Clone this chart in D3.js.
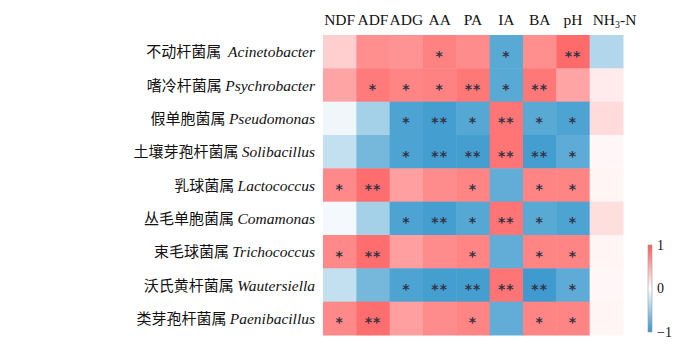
<!DOCTYPE html>
<html>
<head>
<meta charset="utf-8">
<script src="https://cdn.jsdelivr.net/npm/d3@7"></script>
<style>
  body { margin: 0; background: #fff; }
</style>
</head>
<body>
<svg width="700" height="351"></svg>
<script>
var cols = ["NDF", "ADF", "ADG", "AA", "PA", "IA", "BA", "pH", "NH3-N"];
var genusCn = ["不动杆菌属", "嗜冷杆菌属", "假单胞菌属", "土壤芽孢杆菌属", "乳球菌属",
               "丛毛单胞菌属", "束毛球菌属", "沃氏黄杆菌属", "类芽孢杆菌属"];
var genusLatin = ["Acinetobacter", "Psychrobacter", "Pseudomonas", "Solibacillus", "Lactococcus",
                  "Comamonas", "Trichococcus", "Wautersiella", "Paenibacillus"];

// correlation coefficients, one row per genus
var corr = [
    [0.30, 0.68, 0.66, 0.76, 0.70, -0.82, 0.68, 0.90, -0.38],
    [0.55, 0.80, 0.74, 0.76, 0.82, -0.82, 0.82, 0.55, 0.12],
    [-0.08, -0.45, -0.88, -0.92, -0.84, 0.84, -0.82, -0.88, 0.22],
    [-0.30, -0.68, -0.88, -0.92, -0.92, 0.84, -0.92, -0.80, 0.05],
    [0.72, 0.88, 0.58, 0.70, 0.74, -0.78, 0.74, 0.74, 0.06],
    [-0.06, -0.45, -0.88, -0.92, -0.84, 0.84, -0.82, -0.88, 0.20],
    [0.72, 0.88, 0.58, 0.70, 0.74, -0.78, 0.74, 0.74, 0.06],
    [-0.30, -0.68, -0.88, -0.92, -0.92, 0.84, -0.95, -0.80, 0.05],
    [0.72, 0.88, 0.58, 0.70, 0.74, -0.78, 0.74, 0.74, 0.06]
];
// significance marks
var sig = [
    ["", "", "", "*", "", "*", "", "**", ""],
    ["", "*", "*", "*", "**", "*", "**", "", ""],
    ["", "", "*", "**", "*", "**", "*", "*", ""],
    ["", "", "*", "**", "**", "**", "**", "*", ""],
    ["*", "**", "", "", "*", "", "*", "*", ""],
    ["", "", "*", "**", "*", "**", "*", "*", ""],
    ["*", "**", "", "", "*", "", "*", "*", ""],
    ["", "", "*", "**", "**", "**", "**", "*", ""],
    ["*", "**", "", "", "*", "", "*", "*", ""]
];
var legendTicks = [1, 0, -1];

var svg = d3.select("svg");
var grid = {left: 323, top: 35, width: 300, height: 300};

var x = d3.scaleBand().domain(cols).range([grid.left, grid.left + grid.width]);
var y = d3.scaleBand().domain(genusLatin).range([grid.top, grid.top + grid.height]);
var color = d3.scaleLinear().domain([-1, 0, 1])
    .range(["#3596cc", "#ffffff", "#ff5a5a"]);

var cells = [];
corr.forEach(function(row, i) {
    row.forEach(function(v, j) {
        cells.push({r: genusLatin[i], c: cols[j], v: v, s: sig[i][j]});
    });
});

svg.append("g").selectAll("rect")
    .data(cells)
    .enter().append("rect")
    .attr("x", function(d) { return x(d.c); })
    .attr("y", function(d) { return y(d.r); })
    .attr("width", x.bandwidth() + 0.5)
    .attr("height", y.bandwidth() + 0.5)
    .attr("fill", function(d) { return color(d.v); });

// stars
svg.append("g").selectAll("text")
    .data(cells.filter(function(d) { return d.s; }))
    .enter().append("text")
    .attr("x", function(d) { return x(d.c) + x.bandwidth() / 2; })
    .attr("y", function(d) { return y(d.r) + y.bandwidth() / 2; })
    .attr("dy", "0.64em")
    .attr("text-anchor", "middle")
    .style("font-family", "'DejaVu Sans', sans-serif")
    .style("font-size", "14px")
    .style("font-weight", "bold")
    .style("letter-spacing", "1px")
    .style("fill", "#333344")
    .text(function(d) { return d.s; });

// column headers
var head = svg.append("g")
    .style("font-family", "'Liberation Serif', 'Times New Roman', serif")
    .style("font-size", "15.5px")
    .style("fill", "#111");
cols.forEach(function(c, j) {
    var t = head.append("text")
        .attr("y", 25);
    if (c === "NH3-N") {
        t.attr("x", x(c) + 3).attr("text-anchor", "start");
        t.append("tspan").text("NH");
        t.append("tspan").attr("font-size", "10px").attr("dy", 3).text("3");
        t.append("tspan").attr("dy", -3).text("-N");
    } else {
        t.attr("x", x(c) + x.bandwidth() / 2).attr("text-anchor", "middle").text(c);
    }
});

// row labels
var rows = svg.append("g");
genusLatin.forEach(function(g, i) {
    var t = rows.append("text")
        .attr("x", 315)
        .attr("y", y(g) + y.bandwidth() / 2)
        .attr("dy", "0.36em")
        .attr("text-anchor", "end")
        .style("fill", "#111");
    t.append("tspan")
        .style("font-family", "'Noto Sans CJK SC', sans-serif")
        .style("font-size", "15px")
        .text(genusCn[i] + (i === 0 ? "\u00a0 " : " "));
    t.append("tspan")
        .style("font-family", "'Liberation Serif', serif")
        .style("font-style", "italic")
        .style("font-size", "15.5px")
        .text(genusLatin[i]);
});

// colour bar legend
var defs = svg.append("defs");
var grad = defs.append("linearGradient")
    .attr("id", "cbar")
    .attr("x1", 0).attr("y1", 0).attr("x2", 0).attr("y2", 1);
[1, 0.5, 0, -0.5, -1].forEach(function(v) {
    grad.append("stop")
        .attr("offset", ((1 - v) / 2 * 100) + "%")
        .attr("stop-color", color(v));
});
var ly = d3.scaleLinear().domain([1, -1]).range([245, 332]);
svg.append("rect")
    .attr("x", 648)
    .attr("y", ly(1))
    .attr("width", 4)
    .attr("height", ly(-1) - ly(1))
    .attr("fill", "url(#cbar)")
    .attr("stroke", "#999")
    .attr("stroke-width", 0.6);
svg.append("g").selectAll("text")
    .data(legendTicks)
    .enter().append("text")
    .attr("x", 657)
    .attr("y", function(d) { return ly(d); })
    .attr("dy", "0.35em")
    .style("font-family", "'Liberation Serif', serif")
    .style("font-size", "14px")
    .style("fill", "#111")
    .text(function(d) { return d < 0 ? "\u2212" + Math.abs(d) : d; });
</script>
</body>
</html>
